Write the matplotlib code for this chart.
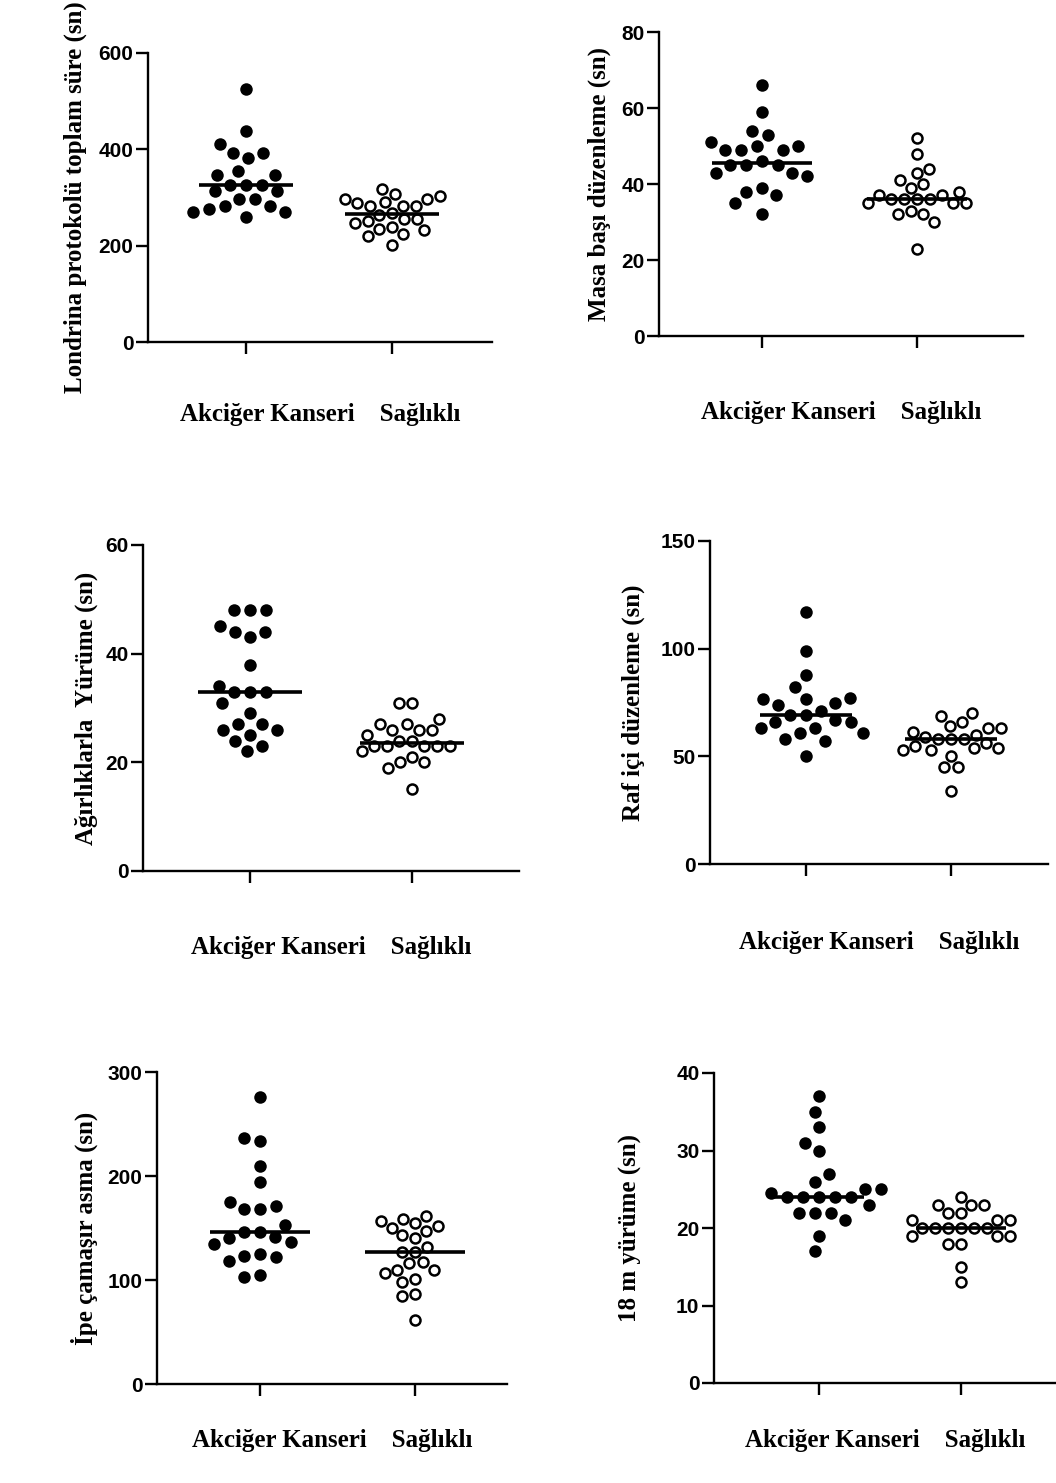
import numpy as np
import matplotlib
matplotlib.use("Agg")
import matplotlib.pyplot as plt

# ──────────────────────────────────────────────────────────
#  Data
# ──────────────────────────────────────────────────────────
groups = ["Akciğer Kanseri", "Sağlıklı"]

londrina_lc = [525, 438, 412, 392, 392, 381, 355, 346, 346, 326, 326, 326,
               313, 313, 296, 296, 282, 282, 277, 270, 270, 260]
londrina_h  = [317, 308, 303, 296, 296, 291, 289, 283, 283, 283, 268, 264,
               256, 255, 251, 248, 239, 235, 233, 224, 221, 202]

masa_lc = [66, 59, 54, 53, 51, 50, 50, 49, 49, 49, 46, 45, 45, 45, 43, 43,
           42, 39, 38, 37, 35, 32]
masa_h  = [52, 48, 44, 43, 41, 40, 39, 38, 37, 37, 36, 36, 36, 36, 35, 35,
           35, 33, 32, 32, 30, 23]

agirlik_lc = [48, 48, 48, 45, 44, 44, 43, 38, 34, 33, 33, 33, 31, 29, 27, 27,
              26, 26, 25, 24, 23, 22]
agirlik_h  = [31, 31, 28, 27, 27, 26, 26, 26, 25, 24, 24, 23, 23, 23, 23, 23,
              22, 21, 20, 20, 19, 15]

raf_lc = [117, 99, 88, 82, 77, 76.5, 76.5, 75, 74, 71, 69, 69, 67, 66, 66,
          63, 63, 61, 61, 58, 57, 50]
raf_h  = [70, 68.5, 66, 64, 63, 63, 61.5, 60, 59, 58, 58, 58, 56, 55, 54, 54,
          53, 53, 50, 45, 45, 34]

ip_lc = [276, 237, 234, 210, 194, 175, 171, 168, 168, 153, 146, 146, 141,
         140, 137, 135, 125, 123, 122, 118, 105, 103]
ip_h  = [162, 159, 157, 155, 152, 150, 147, 143, 140, 132, 127, 127, 117,
         116, 110, 110, 107, 101, 98, 87, 85, 62]

yuru_lc = [37, 35, 33, 31, 30, 27, 26, 25, 25, 24.5, 24, 24, 24, 24, 24, 23,
           22, 22, 22, 21, 19, 17]
yuru_h  = [24, 23, 23, 23, 22, 22, 21, 21, 21, 20, 20, 20, 20, 20, 20, 19,
           19, 19, 18, 18, 15, 13]

y_labels = ["Londrina protokolü toplam süre (sn)", "Masa başı düzenleme (sn)",
            "Ağırlıklarla  Yürüme (sn)", "Raf içi düzenleme (sn)",
            "İpe çamaşır asma (sn)", "18 m yürüme (sn)"]
y_ticks = [[0, 200, 400, 600], [0, 20, 40, 60, 80], [0, 20, 40, 60],
           [0, 50, 100, 150], [0, 100, 200, 300], [0, 10, 20, 30, 40]]

panels = [(londrina_lc, londrina_h), (masa_lc, masa_h), (agirlik_lc, agirlik_h),
          (raf_lc, raf_h), (ip_lc, ip_h), (yuru_lc, yuru_h)]

# ──────────────────────────────────────────────────────────
#  Layout in pixels: left, right, top, bottom, tick0, tick1, ylabel x, xlabel y
# ──────────────────────────────────────────────────────────
W, H = 1056, 1483
layout = [
    (148, 492,   53,  342, 246, 392,  75,  414),
    (659, 1023,  32,  336, 762, 917, 599,  413),
    (143, 519,  545,  871, 250, 412,  86,  948),
    (710, 1048, 541,  864, 806, 951, 633,  943),
    (157, 507, 1072, 1384, 260, 415,  84, 1440),
    (714, 1056, 1073, 1383, 819, 961, 630, 1440),
]

SANS  = "Liberation Sans"
SERIF = "Liberation Serif"
LW    = 1.7


def swarm(ax, values, center, gap):
    """Greedy beeswarm: returns x positions in data units."""
    vals = np.asarray(values, dtype=float)
    pix = ax.transData.transform(np.column_stack([np.full(len(vals), center), vals]))
    ys = pix[:, 1]
    x_unit = ax.transData.transform((1, 0))[0] - ax.transData.transform((0, 0))[0]
    med = np.median(vals)
    order = np.argsort(np.abs(vals - med), kind="stable")
    placed = []
    offs = np.zeros(len(vals))
    for i in order:
        cands = [0.0]
        for px, py in placed:
            dy = ys[i] - py
            if abs(dy) < gap:
                dx = np.sqrt(gap ** 2 - dy ** 2)
                cands += [px + dx, px - dx]
        for c in sorted(cands, key=lambda v: (abs(v), v)):
            if all((c - px) ** 2 + (ys[i] - py) ** 2 >= gap ** 2 - 1e-6 for px, py in placed):
                offs[i] = c
                break
        placed.append((offs[i], ys[i]))
    return center + offs / x_unit


fig = plt.figure(figsize=(W / 100, H / 100), dpi=100)

for k, ((lc, hc), (L, R, T, B, t0, t1, ylx, xly)) in enumerate(zip(panels, layout)):
    ax = fig.add_axes([L / W, 1 - B / H, (R - L) / W, (B - T) / H])
    unit = t1 - t0
    ax.set_xlim((L - t0) / unit, (R - t0) / unit)
    ticks = y_ticks[k]
    ax.set_ylim(0, ticks[-1])

    for pos, vals, filled in [(0, lc, True), (1, hc, False)]:
        if filled:
            xs = swarm(ax, vals, pos, 16.0)
            ax.plot(xs, vals, "o", ms=9.0, mfc="black", mec="black", mew=0,
                    clip_on=False, zorder=3)
        else:
            xs = swarm(ax, vals, pos, 13.0)
            ax.plot(xs, vals, "o", ms=7.2, mfc="white", mec="black", mew=1.8,
                    clip_on=False, zorder=3)
        med = np.median(vals)
        ax.plot([pos - 0.32, pos + 0.32], [med, med], color="black", lw=2.6,
                solid_capstyle="butt", zorder=4)

    for s in ["top", "right"]:
        ax.spines[s].set_visible(False)
    for s in ["left", "bottom"]:
        ax.spines[s].set_linewidth(LW)
    ax.set_facecolor("none")

    ax.set_xticks([0, 1])
    ax.set_xticklabels([])
    ax.set_yticks(ticks)
    ax.tick_params(direction="out", length=8.5, width=LW, pad=2)
    for lab in ax.get_yticklabels():
        lab.set_fontfamily(SANS)
        lab.set_fontweight("bold")
        lab.set_fontsize(15)

    ax.set_ylabel(y_labels[k], fontfamily=SERIF, fontweight="bold", fontsize=18,
                  va="center")
    ax.yaxis.set_label_coords((ylx - L) / (R - L), 0.5)

    ax.set_xlabel(f"{groups[0]}    {groups[1]}", fontfamily=SERIF,
                  fontweight="bold", fontsize=18, va="center")
    ax.xaxis.set_label_coords(0.5, (B - xly) / (B - T))

fig.savefig("out.png", dpi=100)
